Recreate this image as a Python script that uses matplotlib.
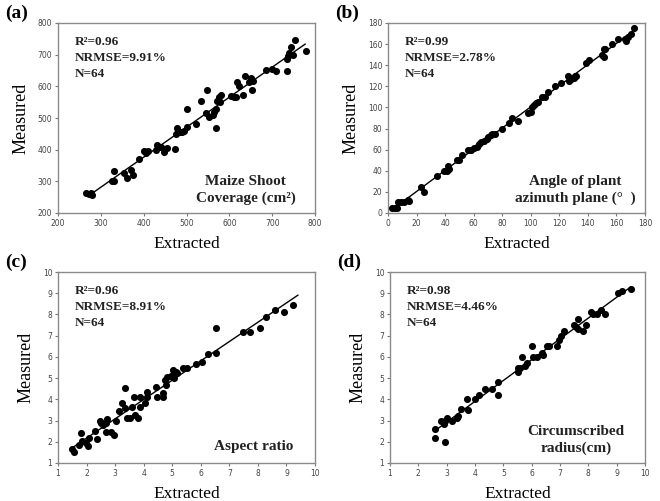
import numpy as np
import matplotlib
matplotlib.use("Agg")
import matplotlib.pyplot as plt

plt.rcParams['font.family'] = ['DejaVu Sans']

# (a) Maize shoot coverage
a_x = [265, 272, 278, 280, 325, 330, 330, 355, 360, 370, 375, 390, 400, 405, 410, 428,
       432, 435, 440, 448, 455, 473, 475, 477, 480, 485, 490, 495, 500, 502, 522, 535,
       545, 548, 552, 562, 565, 568, 570, 572, 575, 578, 580, 605, 610, 615, 618, 622,
       632, 637, 645, 650, 653, 655, 685, 700, 710, 735, 735, 738, 740, 745, 748, 753, 778]
a_y = [262, 260, 262, 258, 300, 302, 333, 325, 310, 335, 320, 372, 395, 390, 395, 400,
       415, 410, 408, 393, 405, 403, 450, 470, 460, 455, 455, 460, 472, 527, 482, 553,
       515, 587, 503, 510, 520, 467, 530, 555, 565, 550, 572, 568, 565, 565, 615, 600,
       573, 632, 615, 625, 590, 618, 653, 655, 650, 648, 685, 695, 705, 725, 700, 745, 712]

# (b) Angle of plant azimuth plane
b_x = [3, 5, 6, 7, 9, 11, 14, 15, 23, 25, 34, 39, 41, 42, 43, 48, 50, 52, 56, 58, 60,
       62, 64, 65, 67, 69, 70, 72, 73, 75, 80, 85, 87, 91, 98, 100, 101, 102, 104, 105,
       108, 110, 112, 117, 121, 126, 127, 128, 130, 131, 132, 139, 141, 150, 151, 151,
       152, 157, 161, 166, 167, 168, 170, 172]
b_y = [5, 5, 5, 10, 10, 10, 12, 11, 25, 20, 35, 40, 40, 45, 42, 50, 50, 55, 60, 60, 62,
       63, 65, 67, 68, 70, 72, 74, 75, 75, 80, 85, 90, 87, 95, 96, 100, 102, 104, 105,
       110, 110, 115, 120, 123, 130, 125, 127, 128, 130, 130, 142, 145, 150, 148, 155,
       155, 160, 165, 165, 163, 167, 170, 175]

# (c) Aspect ratio
c_x = [1.5, 1.55, 1.74, 1.82, 1.85, 1.97, 2.05, 2.09, 2.28, 2.38, 2.46, 2.52, 2.58,
       2.67, 2.69, 2.73, 2.87, 2.95, 3.02, 3.13, 3.25, 3.34, 3.34, 3.4, 3.51, 3.6, 3.66,
       3.69, 3.8, 3.86, 3.88, 4.04, 4.1, 4.12, 4.42, 4.45, 4.66, 4.68, 4.74, 4.77, 4.83,
       4.97, 5.03, 5.05, 5.12, 5.17, 5.36, 5.5, 5.85, 6.06, 6.26, 6.53, 6.53, 7.48, 7.72,
       8.07, 8.3, 8.59, 8.92, 9.23]
c_y = [1.65, 1.5, 1.86, 2.4, 2.06, 1.94, 1.81, 2.17, 2.49, 2.13, 2.96, 2.88, 2.8,
       2.88, 2.44, 3.08, 2.44, 2.33, 2.96, 3.43, 3.82, 4.52, 3.58, 3.11, 3.11, 3.66, 4.13,
       3.27, 3.11, 4.13, 3.66, 3.82, 4.36, 4.1, 4.6, 4.1, 4.29, 4.1, 4.91, 4.68, 5.07,
       5.1, 5.38, 5.0, 5.3, 5.23, 5.46, 5.46, 5.66, 5.77, 6.13, 7.34, 6.2, 7.18, 7.18,
       7.34, 7.89, 8.2, 8.13, 8.43]

# (d) Circumscribed radius
d_x = [2.6, 2.6, 2.8, 2.9, 2.95, 2.95, 3.0, 3.2, 3.35, 3.4, 3.5, 3.7, 3.75, 4.0, 4.15,
       4.35, 4.6, 4.8, 4.8, 5.5, 5.5, 5.6, 5.65, 5.75, 5.85, 6.0, 6.05, 6.2, 6.35, 6.4,
       6.55, 6.6, 6.9, 6.95, 7.05, 7.15, 7.5, 7.55, 7.65, 7.65, 7.8, 7.9, 8.1, 8.15, 8.3,
       8.45, 8.6, 9.05, 9.2, 9.5]
d_y = [2.6, 2.2, 3.0, 2.85, 3.0, 2.0, 3.1, 3.0, 3.1, 3.2, 3.55, 4.0, 3.5, 4.0, 4.2,
       4.5, 4.5, 4.8, 4.2, 5.5, 5.3, 5.5, 6.0, 5.55, 5.7, 6.5, 6.0, 6.0, 6.2, 6.1,
       6.5, 6.5, 6.5, 6.8, 7.0, 7.2, 7.5, 7.4, 7.3, 7.8, 7.2, 7.5, 8.1, 8.0, 8.0,
       8.2, 8.0, 9.0, 9.1, 9.2]

# fit line drawn over this x-span (as in the original figure)
line_span = [(270, 777), (3, 172), (1.5, 9.4), (2.6, 9.5)]

panels = [
    ("(a)", a_x, a_y, (200, 800), np.arange(200, 801, 100),
     ["R²=0.96", "NRMSE=9.91%", "N=64"], "Maize Shoot\nCoverage (cm²)"),
    ("(b)", b_x, b_y, (0, 180), np.arange(0, 181, 20),
     ["R²=0.99", "NRMSE=2.78%", "N=64"], "Angle of plant\nazimuth plane (°  )"),
    ("(c)", c_x, c_y, (1, 10), np.arange(1, 11),
     ["R²=0.96", "NRMSE=8.91%", "N=64"], "Aspect ratio"),
    ("(d)", d_x, d_y, (1, 10), np.arange(1, 11),
     ["R²=0.98", "NRMSE=4.46%", "N=64"], "Circumscribed\nradius(cm)"),
]

# axes boxes in pixels: left, top, right, bottom
boxes = [(58, 23, 315, 213), (388, 23, 645, 213), (58, 272, 315, 463), (390, 272, 645, 463)]

W, H = 660, 501
fig = plt.figure(figsize=(W / 100, H / 100), dpi=100)
serif = 'Liberation Serif'

for (lab, x, y, lim, ticks, stats, name), (l, t, r, b), span in zip(panels, boxes, line_span):
    ax = fig.add_axes([l / W, (H - b) / H, (r - l) / W, (b - t) / H])
    x = np.array(x, float)
    y = np.array(y, float)
    ax.scatter(x, y, s=26, color='black', zorder=3, linewidths=0)
    k, c0 = np.polyfit(x, y, 1)
    xs = np.array(span, float)
    ax.plot(xs, k * xs + c0, color='black', lw=1.0, zorder=2)
    ax.set_xlim(*lim)
    ax.set_ylim(*lim)
    ax.set_xticks(ticks)
    ax.set_yticks(ticks)
    ax.tick_params(labelsize=5.5, labelcolor='#444444', color='#777777', length=2.5, width=0.8, pad=1.5)
    for s in ax.spines.values():
        s.set_color('#8a8a8a')
        s.set_linewidth(1.0)
    ax.set_xlabel("Extracted", family=serif, fontsize=12.5, labelpad=6)
    ax.set_ylabel("Measured", family=serif, fontsize=13, labelpad=6)
    for i, s in enumerate(stats):
        ax.text(0.065, 0.9 - i * 0.083, s, transform=ax.transAxes, family=serif,
                fontsize=9.5, fontweight='bold', color='#222222', va='center', ha='left')
    if '\n' in name:
        ax.text(0.73, 0.12, name, transform=ax.transAxes, family=serif, fontsize=11,
                fontweight='bold', color='#222222', ha='center', va='center', linespacing=1.3)
    else:
        ax.text(0.76, 0.085, name, transform=ax.transAxes, family=serif, fontsize=11,
                fontweight='bold', color='#222222', ha='center', va='center')
    fig.text((l - 53) / W, 1 - (t - 10) / H, lab, family=serif, fontsize=14,
             fontweight='bold', ha='left', va='center')

fig.savefig("out.png", dpi=100)
